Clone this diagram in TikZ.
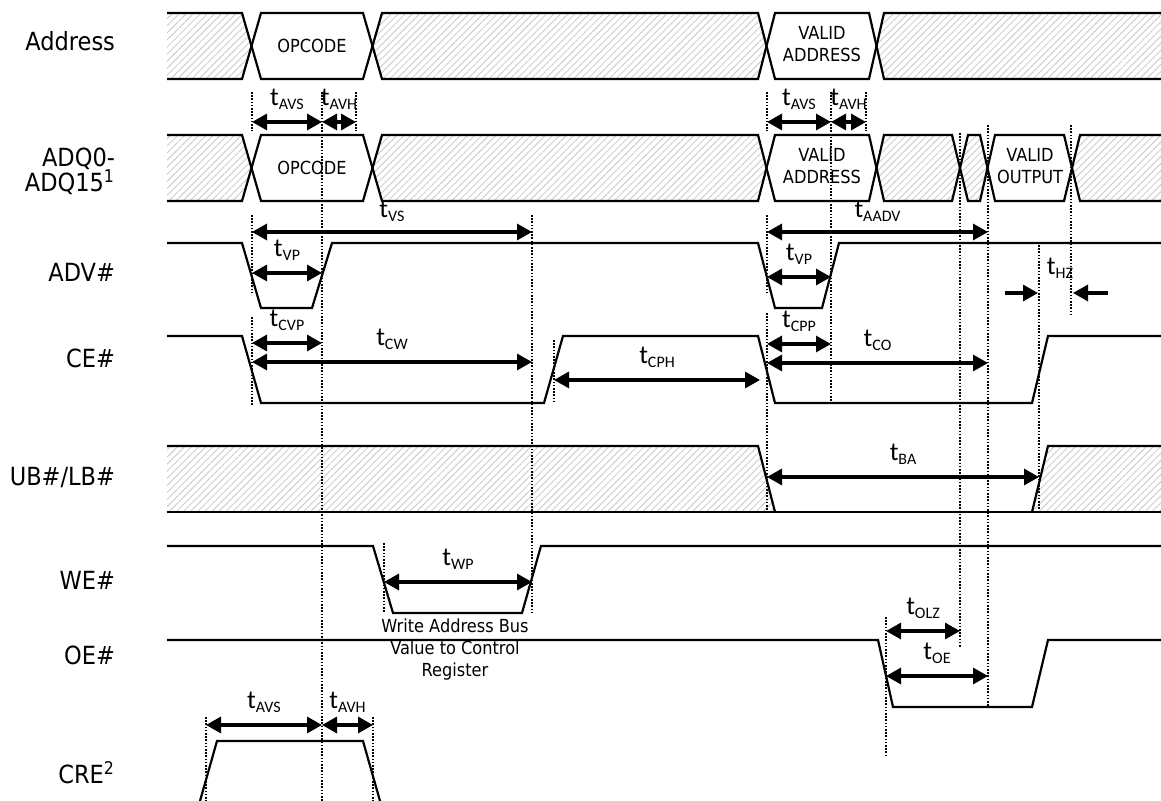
\documentclass[tikz,border=0pt]{standalone}
\usepackage{fontspec}
\setmainfont{DejaVu Sans Condensed}
\newfontfamily\calib{Carlito}
\usetikzlibrary{arrows.meta,patterns.meta}
\newcommand{\tm}[1]{{\calib\fontsize{13}{13}\selectfont t\raisebox{-0.35ex}{\fontsize{8}{8}\selectfont #1}}}

\begin{document}
\begin{tikzpicture}[x=0.5pt,y=-0.5pt,
  sig/.style={line width=1.1pt},
  hatch/.style={pattern={Lines[angle=45,distance=2.5pt,line width=0.4pt]},pattern color=black!22},
  guide/.style={line width=0.7pt,dash pattern=on 0.8pt off 0.8pt},
  dim/.style={line width=1.6pt,{Triangle[length=7.5pt,width=8pt]}-{Triangle[length=7.5pt,width=8pt]}},
  half/.style={line width=1.6pt,-{Triangle[length=7.5pt,width=8pt]}},
  signame/.style={anchor=east,align=right,font=\fontsize{12.5}{12.5}\selectfont},
  val/.style={align=center,font=\fontsize{9}{11}\selectfont}]
\useasboundingbox (0,0) rectangle (1161,801);

% signal names
\node[signame] (nAddr) at (122,41) {Address};
\node[signame] (nAdq) at (122,171) {ADQ0-\\ADQ15\textsuperscript{1}};
\node[signame] (nAdv) at (122,272) {ADV\#};
\node[signame] (nCe) at (122,358) {CE\#};
\node[signame] (nUb) at (122,478) {UB\#/LB\#};
\node[signame] (nWe) at (122,580) {WE\#};
\node[signame] (nOe) at (122,655) {OE\#};
\node[signame] (nCre) at (122,773) {CRE\textsuperscript{2}};

% Address bus
\fill[hatch] (167,13)--(242,13)--(251.5,46)--(242,79)--(167,79)--cycle
  (372.5,46)--(382,13)--(758,13)--(766.5,46)--(758,79)--(382,79)--cycle
  (876.5,46)--(884,13)--(1161,13)--(1161,79)--(884,79)--cycle;
\draw[sig] (167,13)--(242,13)--(261,79)--(363,79)--(382,13)--(758,13)--(775,79)--(869,79)--(884,13)--(1161,13);
\draw[sig] (167,79)--(242,79)--(261,13)--(363,13)--(382,79)--(758,79)--(775,13)--(869,13)--(884,79)--(1161,79);
\node[val] (opA) at (312,46) {OPCODE};
\node[val] (vaA) at (822,44) {VALID\\ADDRESS};

% ADQ bus
\fill[hatch] (167,135)--(242,135)--(251.5,168)--(242,201)--(167,201)--cycle
  (372.5,168)--(382,135)--(758,135)--(766.5,168)--(758,201)--(382,201)--cycle
  (876.5,168)--(884,135)--(952,135)--(960,168)--(952,201)--(884,201)--cycle
  (960,168)--(968,135)--(980,135)--(987.5,168)--(980,201)--(968,201)--cycle
  (1072,168)--(1080,135)--(1161,135)--(1161,201)--(1080,201)--cycle;
\draw[sig] (167,135)--(242,135)--(261,201)--(363,201)--(382,135)--(758,135)--(775,201)--(869,201)--(884,135)--(952,135)--(968,201)--(980,201)--(995,135)--(1064,135)--(1080,201)--(1161,201);
\draw[sig] (167,201)--(242,201)--(261,135)--(363,135)--(382,201)--(758,201)--(775,135)--(869,135)--(884,201)--(952,201)--(968,135)--(980,135)--(995,201)--(1064,201)--(1080,135)--(1161,135);
\node[val] (opQ) at (312,168) {OPCODE};
\node[val] (vaQ) at (822,166) {VALID\\ADDRESS};
\node[val] (voQ) at (1030,166) {VALID\\OUTPUT};

% ADV#, CE#
\draw[sig] (167,243)--(242,243)--(261,308)--(312,308)--(332,243)--(758,243)--(775,308)--(822,308)--(839,243)--(1161,243);
\draw[sig] (167,336)--(242,336)--(261,403)--(544,403)--(563,336)--(758,336)--(775,403)--(1032,403)--(1048,336)--(1161,336);

% UB#/LB#
\fill[hatch] (167,446)--(758,446)--(775,512)--(167,512)--cycle
  (1048,446)--(1161,446)--(1161,512)--(1032,512)--cycle;
\draw[sig] (167,446)--(758,446)--(775,512);
\draw[sig] (1032,512)--(1048,446)--(1161,446);
\draw[sig] (167,512)--(1161,512);

% WE#, OE#, CRE
\draw[sig] (167,546)--(373,546)--(393,613)--(522,613)--(541,546)--(1161,546);
\draw[sig] (167,640)--(878,640)--(893,707)--(1032,707)--(1048,640)--(1161,640);
\draw[sig] (198,808)--(217,741)--(363,741)--(382,808);
\node[val] (wr) at (455,650) {Write Address Bus\\Value to Control\\Register};

% guide lines
\draw[guide] (252,92)--(252,131) (356,92)--(356,131) (322,92)--(322,801)
  (767,92)--(767,131) (866,92)--(866,131) (831,92)--(831,403)
  (252,215)--(252,295) (252,317)--(252,405) (532,215)--(532,613)
  (767,215)--(767,293) (767,313)--(767,512)
  (960,133)--(960,648) (988,125)--(988,707) (1071,125)--(1071,315)
  (1039,245)--(1039,513) (554,340)--(554,403) (384,543)--(384,613)
  (886,617)--(886,757) (206,717)--(206,801) (373,717)--(373,801);

% timings
\draw[dim] (252,122)--(322,122) node[midway,above=2pt] (avs1) {\tm{AVS}};
\draw[dim] (322,122)--(356,122) node[midway,above=2pt] (avh1) {\tm{AVH}};
\draw[dim] (767,122)--(831,122) node[midway,above=2pt] (avs2) {\tm{AVS}};
\draw[dim] (831,122)--(866,122) node[midway,above=2pt] (avh2) {\tm{AVH}};
\draw[dim] (252,232)--(532,232) node[midway,above=1pt] (vs) {\tm{VS}};
\draw[dim] (767,232)--(988,232) node[midway,above=1pt] (aadv) {\tm{AADV}};
\draw[dim] (252,273)--(322,273) node[midway,above=2pt] (vp1) {\tm{VP}};
\draw[dim] (767,277)--(831,277) node[midway,above=2pt] (vp2) {\tm{VP}};
\draw[half] (1005,293)--(1038,293);
\draw[half] (1108,293)--(1073,293);
\node (hz) at (1060,268) {\tm{HZ}};
\draw[dim] (252,343)--(322,343) node[midway,above=2pt] (cvp) {\tm{CVP}};
\draw[dim] (252,362)--(532,362) node[midway,above=2pt] (cw) {\tm{CW}};
\draw[dim] (554,380)--(760,380) node[midway,above=2pt] (cph) {\tm{CPH}};
\draw[dim] (767,344)--(831,344) node[midway,above=2pt] (cpp) {\tm{CPP}};
\draw[dim] (767,363)--(988,363) node[midway,above=2pt] (co) {\tm{CO}};
\draw[dim] (767,477)--(1039,477) node[midway,above=2pt] (ba) {\tm{BA}};
\draw[dim] (384,582)--(532,582) node[midway,above=2pt] (wp) {\tm{WP}};
\draw[dim] (886,631)--(960,631) node[midway,above=2pt] (olz) {\tm{OLZ}};
\draw[dim] (886,676)--(988,676) node[midway,above=2pt] (oe) {\tm{OE}};
\draw[dim] (206,725)--(322,725) node[midway,above=2pt] (avs3) {\tm{AVS}};
\draw[dim] (322,725)--(373,725) node[midway,above=2pt] (avh3) {\tm{AVH}};
\end{tikzpicture}
\end{document}
